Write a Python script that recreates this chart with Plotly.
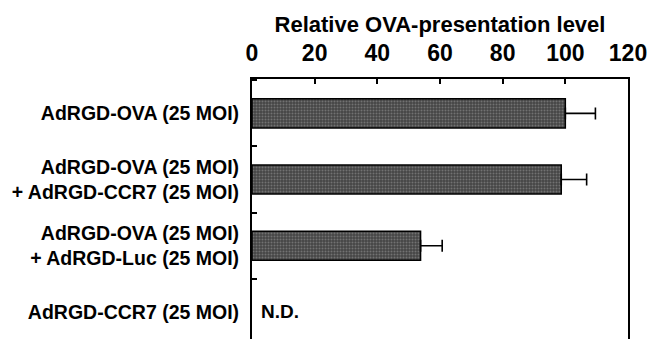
import plotly.graph_objects as go

categories = [
    "AdRGD-OVA (25 MOI)",
    "AdRGD-OVA (25 MOI)<br>+ AdRGD-CCR7 (25 MOI)",
    "AdRGD-OVA (25 MOI)<br>+ AdRGD-Luc (25 MOI)",
    "AdRGD-CCR7 (25 MOI)",
]
values = [100, 98.7, 53.8, None]
errors = [9.6, 8.1, 6.9, None]
nd_label = "N.D."
x_ticks = [0, 20, 40, 60, 80, 100, 120]
x_title = "Relative OVA-presentation level"

FONT = "Liberation Sans, Arial, sans-serif"

fig = go.Figure()
fig.add_trace(go.Bar(
    x=values,
    y=categories,
    orientation="h",
    width=0.44,
    marker=dict(
        color="#5a5a5a",
        line=dict(color="black", width=1.5),
        pattern=dict(shape=".", fgcolor="#a0a0a0", bgcolor="#454545", size=3, solidity=0.35),
    ),
    error_x=dict(type="data", array=errors, arrayminus=[0, 0, 0, 0], symmetric=False,
                 color="black", thickness=1.6, width=6),
    showlegend=False,
    hoverinfo="skip",
))

fig.add_annotation(x=0, y=categories[3], text="<b>" + nd_label + "</b>", showarrow=False,
                   xanchor="left", xshift=7, font=dict(family=FONT, size=19, color="black"))

fig.update_layout(
    width=648, height=339,
    margin=dict(l=252, r=20, t=79, b=0, autoexpand=False),
    paper_bgcolor="white", plot_bgcolor="white",
    font=dict(family=FONT, color="black"),
)
fig.update_xaxes(
    side="top", range=[0, 120], tickvals=x_ticks,
    ticktext=["<b>%d</b>" % v for v in x_ticks],
    ticks="inside", ticklen=5, tickwidth=1.5, tickcolor="black",
    showline=True, linecolor="black", linewidth=2, showgrid=False, zeroline=False,
    tickfont=dict(family=FONT, size=23, color="black"),
    ticklabelstandoff=7, automargin=False,
    title=dict(text="<b>" + x_title + "</b>", font=dict(family=FONT, size=22, color="black"), standoff=1),
)
fig.update_yaxes(
    type="category", categoryorder="array", categoryarray=categories,
    range=[3.41, -0.52],
    ticktext=["<b>" + c.replace("<br>", "</b><br><b>") + "</b>" for c in categories],
    tickvals=categories,
    tickson="boundaries", ticks="inside", ticklen=5, tickwidth=1.5, tickcolor="black",
    showline=True, linecolor="black", linewidth=2, mirror=True, showgrid=False, zeroline=False,
    tickfont=dict(family=FONT, size=19.5, color="black"),
    ticklabelstandoff=7, automargin=False,
)

fig.write_html("out.html", config={"displayModeBar": False},
               post_script="document.body.style.margin='0';document.body.style.overflow='hidden';")
